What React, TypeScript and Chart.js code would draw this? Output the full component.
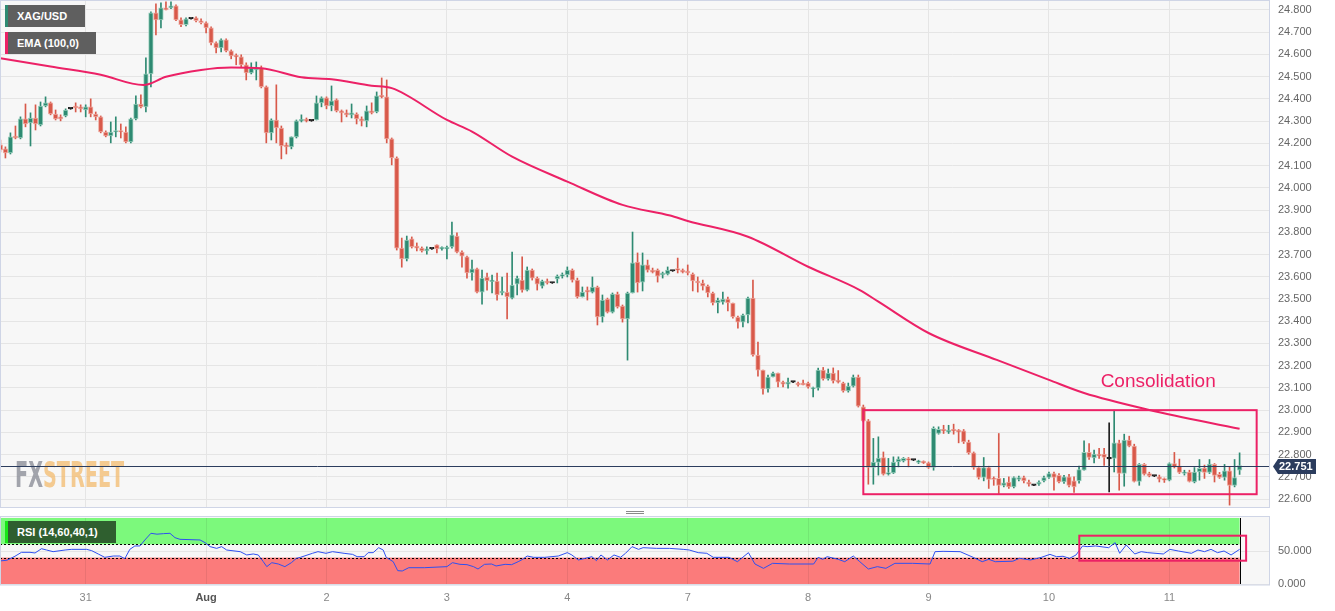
import React, { useEffect, useRef } from "react";
import { Chart, registerables } from "chart.js";

Chart.register(...registerables);

// ---------- DATA (hourly XAG/USD candles, index 0 = first visible hour) ----------
const opens = [
  24.193, 24.175, 24.157, 24.233, 24.224, 24.310, 24.292, 24.314, 24.283, 24.368,
  24.382, 24.332, 24.319, 24.323, 24.355, 24.368, 24.364, 24.350, 24.364, 24.332,
  24.319, 24.251, 24.233, 24.251, 24.256, 24.251, 24.206, 24.310, 24.377, 24.364,
  24.512, 24.787, 24.755, 24.809, 24.809, 24.818, 24.755, 24.733, 24.760, 24.764,
  24.751, 24.742, 24.719, 24.652, 24.629, 24.665, 24.616, 24.593, 24.589, 24.553,
  24.517, 24.530, 24.539, 24.454, 24.247, 24.305, 24.269, 24.193, 24.184, 24.229,
  24.301, 24.305, 24.301, 24.305, 24.382, 24.404, 24.368, 24.395, 24.346, 24.337,
  24.328, 24.332, 24.310, 24.301, 24.346, 24.341, 24.413, 24.409, 24.220, 24.134,
  23.729, 23.680, 23.770, 23.738, 23.729, 23.716, 23.725, 23.743, 23.725, 23.725,
  23.734, 23.783, 23.711, 23.689, 23.617, 23.635, 23.531, 23.599, 23.578, 23.581,
  23.527, 23.531, 23.504, 23.567, 23.585, 23.540, 23.630, 23.594, 23.558, 23.581,
  23.572, 23.590, 23.603, 23.608, 23.630, 23.585, 23.509, 23.540, 23.531, 23.554,
  23.419, 23.500, 23.441, 23.522, 23.468, 23.410, 23.527, 23.666, 23.576, 23.653,
  23.630, 23.630, 23.608, 23.612, 23.626, 23.635, 23.630, 23.626, 23.612, 23.581,
  23.572, 23.558, 23.527, 23.482, 23.486, 23.500, 23.482, 23.419, 23.396, 23.428,
  23.504, 23.248, 23.180, 23.095, 23.149, 23.167, 23.126, 23.117, 23.126, 23.122,
  23.122, 23.122, 23.095, 23.099, 23.180, 23.140, 23.167, 23.135, 23.122, 23.086,
  23.108, 23.149, 23.015, 22.952, 22.742, 22.765, 22.787, 22.712, 22.718, 22.767,
  22.772, 22.780, 22.775, 22.765, 22.767, 22.763, 22.742, 22.895, 22.914, 22.902,
  22.914, 22.910, 22.907, 22.857, 22.808, 22.742, 22.697, 22.742, 22.693, 22.693,
  22.662, 22.677, 22.655, 22.688, 22.697, 22.677, 22.662, 22.667, 22.682, 22.697,
  22.715, 22.707, 22.677, 22.700, 22.682, 22.682, 22.730, 22.810, 22.785, 22.802,
  22.802, 22.781, 22.783, 22.853, 22.715, 22.865, 22.838, 22.680, 22.756, 22.715,
  22.703, 22.700, 22.690, 22.685, 22.760, 22.748, 22.715, 22.722, 22.677, 22.722,
  22.740, 22.720, 22.756, 22.711, 22.697, 22.727, 22.662, 22.730,
];
const highs = [
  24.215, 24.184, 24.247, 24.278, 24.319, 24.377, 24.337, 24.373, 24.386, 24.409,
  24.386, 24.350, 24.328, 24.355, 24.357, 24.382, 24.373, 24.373, 24.400, 24.341,
  24.323, 24.256, 24.296, 24.319, 24.287, 24.274, 24.314, 24.413, 24.418, 24.584,
  24.791, 24.827, 24.832, 24.836, 24.836, 24.823, 24.764, 24.764, 24.762, 24.769,
  24.760, 24.746, 24.724, 24.656, 24.670, 24.670, 24.620, 24.602, 24.598, 24.562,
  24.562, 24.566, 24.548, 24.458, 24.310, 24.463, 24.278, 24.202, 24.229, 24.305,
  24.328, 24.314, 24.303, 24.413, 24.409, 24.409, 24.458, 24.400, 24.350, 24.350,
  24.377, 24.337, 24.319, 24.368, 24.382, 24.431, 24.494, 24.485, 24.224, 24.139,
  23.774, 23.783, 23.779, 23.752, 23.734, 23.734, 23.727, 23.743, 23.734, 23.738,
  23.846, 23.797, 23.716, 23.693, 23.675, 23.639, 23.630, 23.617, 23.608, 23.617,
  23.599, 23.617, 23.711, 23.603, 23.689, 23.644, 23.635, 23.599, 23.585, 23.590,
  23.574, 23.608, 23.617, 23.644, 23.635, 23.594, 23.554, 23.554, 23.599, 23.558,
  23.518, 23.504, 23.527, 23.531, 23.473, 23.531, 23.801, 23.707, 23.707, 23.675,
  23.639, 23.635, 23.621, 23.644, 23.628, 23.684, 23.635, 23.653, 23.617, 23.599,
  23.585, 23.563, 23.531, 23.504, 23.531, 23.509, 23.482, 23.423, 23.432, 23.509,
  23.585, 23.306, 23.180, 23.158, 23.171, 23.167, 23.131, 23.144, 23.128, 23.126,
  23.135, 23.126, 23.104, 23.189, 23.192, 23.185, 23.190, 23.178, 23.126, 23.122,
  23.158, 23.158, 23.023, 22.958, 22.873, 22.880, 22.812, 22.783, 22.790, 22.790,
  22.787, 22.787, 22.777, 22.775, 22.772, 22.767, 22.925, 22.925, 22.932, 22.932,
  22.937, 22.913, 22.913, 22.865, 22.812, 22.748, 22.787, 22.748, 22.700, 22.895,
  22.693, 22.700, 22.700, 22.703, 22.703, 22.685, 22.664, 22.682, 22.703, 22.722,
  22.722, 22.715, 22.707, 22.711, 22.700, 22.748, 22.862, 22.850, 22.820, 22.828,
  22.828, 22.943, 23.000, 22.865, 22.892, 22.883, 22.847, 22.760, 22.760, 22.721,
  22.705, 22.708, 22.695, 22.763, 22.810, 22.780, 22.730, 22.730, 22.742, 22.778,
  22.753, 22.778, 22.760, 22.720, 22.756, 22.745, 22.778, 22.808,
];
const lows = [
  24.161, 24.134, 24.152, 24.220, 24.220, 24.274, 24.188, 24.260, 24.278, 24.364,
  24.328, 24.305, 24.301, 24.319, 24.353, 24.341, 24.341, 24.319, 24.319, 24.305,
  24.247, 24.229, 24.202, 24.229, 24.224, 24.202, 24.202, 24.305, 24.359, 24.341,
  24.454, 24.688, 24.719, 24.800, 24.805, 24.751, 24.724, 24.728, 24.758, 24.746,
  24.737, 24.697, 24.643, 24.607, 24.611, 24.611, 24.580, 24.553, 24.544, 24.485,
  24.512, 24.485, 24.449, 24.202, 24.215, 24.202, 24.130, 24.152, 24.175, 24.224,
  24.296, 24.296, 24.299, 24.305, 24.364, 24.355, 24.346, 24.341, 24.296, 24.319,
  24.314, 24.287, 24.278, 24.274, 24.332, 24.337, 24.404, 24.202, 24.103, 23.720,
  23.643, 23.671, 23.729, 23.716, 23.711, 23.702, 23.723, 23.707, 23.720, 23.680,
  23.729, 23.707, 23.643, 23.594, 23.585, 23.527, 23.477, 23.540, 23.527, 23.495,
  23.518, 23.410, 23.500, 23.518, 23.531, 23.536, 23.585, 23.540, 23.549, 23.567,
  23.570, 23.572, 23.594, 23.599, 23.576, 23.504, 23.509, 23.495, 23.527, 23.383,
  23.396, 23.437, 23.437, 23.459, 23.396, 23.225, 23.527, 23.531, 23.536, 23.621,
  23.617, 23.576, 23.594, 23.608, 23.624, 23.617, 23.617, 23.608, 23.536, 23.531,
  23.540, 23.509, 23.473, 23.437, 23.477, 23.446, 23.414, 23.369, 23.374, 23.392,
  23.243, 23.153, 23.072, 23.081, 23.149, 23.104, 23.104, 23.099, 23.124, 23.108,
  23.113, 23.099, 23.059, 23.090, 23.135, 23.135, 23.122, 23.122, 23.081, 23.081,
  23.104, 23.014, 22.947, 22.667, 22.667, 22.708, 22.708, 22.708, 22.715, 22.745,
  22.767, 22.745, 22.773, 22.760, 22.760, 22.738, 22.730, 22.892, 22.895, 22.895,
  22.892, 22.853, 22.850, 22.802, 22.734, 22.690, 22.682, 22.648, 22.662, 22.625,
  22.655, 22.648, 22.650, 22.682, 22.673, 22.658, 22.660, 22.661, 22.677, 22.693,
  22.640, 22.673, 22.670, 22.655, 22.630, 22.672, 22.730, 22.778, 22.763, 22.783,
  22.752, 22.632, 22.722, 22.640, 22.658, 22.835, 22.677, 22.662, 22.708, 22.700,
  22.701, 22.677, 22.675, 22.682, 22.740, 22.715, 22.708, 22.677, 22.673, 22.685,
  22.693, 22.715, 22.677, 22.693, 22.685, 22.573, 22.655, 22.711,
];
const closes = [
  24.170, 24.157, 24.229, 24.224, 24.310, 24.287, 24.314, 24.287, 24.368, 24.382,
  24.332, 24.310, 24.310, 24.350, 24.355, 24.359, 24.355, 24.364, 24.332, 24.319,
  24.251, 24.233, 24.251, 24.256, 24.251, 24.206, 24.310, 24.377, 24.364, 24.512,
  24.787, 24.755, 24.809, 24.800, 24.818, 24.755, 24.733, 24.760, 24.760, 24.751,
  24.742, 24.719, 24.652, 24.629, 24.665, 24.616, 24.593, 24.589, 24.553, 24.517,
  24.539, 24.539, 24.454, 24.247, 24.305, 24.269, 24.188, 24.184, 24.229, 24.301,
  24.305, 24.301, 24.301, 24.382, 24.404, 24.368, 24.391, 24.346, 24.337, 24.328,
  24.337, 24.310, 24.301, 24.346, 24.337, 24.413, 24.409, 24.220, 24.134, 23.729,
  23.680, 23.765, 23.734, 23.729, 23.716, 23.725, 23.725, 23.725, 23.729, 23.729,
  23.788, 23.711, 23.693, 23.617, 23.635, 23.531, 23.594, 23.581, 23.581, 23.518,
  23.536, 23.509, 23.563, 23.594, 23.540, 23.630, 23.594, 23.567, 23.581, 23.572,
  23.572, 23.603, 23.608, 23.630, 23.585, 23.509, 23.531, 23.531, 23.554, 23.419,
  23.495, 23.441, 23.522, 23.464, 23.410, 23.527, 23.663, 23.572, 23.653, 23.630,
  23.621, 23.603, 23.617, 23.630, 23.626, 23.630, 23.621, 23.617, 23.581, 23.572,
  23.558, 23.527, 23.482, 23.495, 23.500, 23.482, 23.419, 23.396, 23.428, 23.504,
  23.248, 23.180, 23.095, 23.149, 23.167, 23.126, 23.117, 23.126, 23.126, 23.113,
  23.113, 23.104, 23.099, 23.180, 23.140, 23.167, 23.131, 23.126, 23.086, 23.108,
  23.149, 23.018, 22.952, 22.742, 22.767, 22.785, 22.712, 22.718, 22.767, 22.780,
  22.783, 22.775, 22.775, 22.772, 22.763, 22.742, 22.918, 22.914, 22.907, 22.910,
  22.907, 22.902, 22.857, 22.808, 22.742, 22.697, 22.742, 22.688, 22.688, 22.662,
  22.673, 22.655, 22.697, 22.697, 22.682, 22.667, 22.662, 22.677, 22.697, 22.715,
  22.697, 22.677, 22.700, 22.662, 22.655, 22.733, 22.810, 22.787, 22.802, 22.794,
  22.787, 22.781, 22.853, 22.715, 22.865, 22.838, 22.680, 22.756, 22.712, 22.704,
  22.703, 22.690, 22.685, 22.760, 22.745, 22.720, 22.722, 22.680, 22.722, 22.738,
  22.720, 22.757, 22.707, 22.697, 22.727, 22.662, 22.697, 22.751,
];

// EMA(100) at candle indices
const emaIdx = [0, 10, 20, 28.5, 33, 40, 46, 52, 60, 66, 74, 78, 89, 94, 102, 113, 124, 133.5, 137, 149, 161, 171.3, 175, 185, 198.6, 209, 216, 229, 247];
const emaVal = [24.583, 24.545, 24.508, 24.462, 24.499, 24.530, 24.541, 24.538, 24.497, 24.488, 24.459, 24.448, 24.305, 24.253, 24.140, 24.028, 23.923, 23.875, 23.851, 23.780, 23.645, 23.540, 23.488, 23.347, 23.226, 23.136, 23.077, 23.001, 22.916];

// RSI(14) vertices
const rsiIdx = [0, 1.3, 2.9, 4.2, 5.9, 6.9, 8.2, 9.2, 10.5, 12.9, 14.2, 17.2, 18.2, 19.5, 20.8, 22.5, 23.8, 24.8, 25.8, 26.8, 27.8, 28.8, 30, 31.2, 32.5, 33.8, 34.8, 35.8, 39.8, 40.8, 41.8, 43.1, 44.1, 45.1, 47.8, 49.1, 50.4, 51.4, 52.4, 53.1, 54.1, 55.4, 56.7, 58, 59, 59.8, 62.2, 63.3, 64.9, 66.2, 68.5, 70.2, 71.1, 72.5, 73.3, 74.3, 75.4, 76.3, 76.9, 78.3, 79.2, 80.1, 81.4, 84.5, 89, 90.1, 91.6, 93, 94.3, 95.2, 96.5, 97.9, 98.8, 100.6, 101.9, 103.2, 104.1, 105, 106.3, 108.5, 111.2, 113, 113.9, 115.2, 116.6, 117.9, 118.8, 119.7, 121, 122.3, 123.6, 124.6, 125.9, 127.2, 128.1, 130.8, 133.4, 136.1, 137.3, 139.1, 140.8, 142.1, 145.2, 146.9, 149.1, 150.4, 152.1, 153.9, 157.3, 162.1, 163, 163.9, 164.8, 167, 168.3, 170, 171.3, 173, 174.8, 176.5, 178.3, 181.8, 185.3, 186.3, 187.9, 191.3, 193.9, 195.7, 197, 198.3, 201.8, 203.1, 205.3, 207.5, 209.2, 210.5, 211.8, 213.1, 214.4, 215.7, 216.6, 218.3, 220.9, 222.2, 223.1, 224.4, 226.1, 227.4, 228.7, 231.8, 233.1, 234.8, 237.4, 238.7, 240, 241.3, 242.6, 243.9, 245.3, 247];
const rsiVal = [35, 36, 42, 48, 48, 47, 53.5, 51.5, 49, 51.5, 52.5, 52.5, 50.5, 45.5, 40.4, 42.4, 42.4, 38.4, 52.5, 57.6, 57.6, 66.7, 76.8, 75.5, 76.3, 76.8, 70.2, 67.7, 66.7, 62.6, 56.6, 54, 56.6, 51.5, 49, 44, 45.5, 44, 33.8, 26.3, 32.3, 30.3, 26.3, 32.3, 38.9, 40.4, 46.5, 49, 46.5, 49, 46.5, 44.9, 41.4, 41.4, 47.5, 47.5, 55, 51.5, 40.4, 33.8, 20.2, 19.7, 24.7, 24.7, 26.3, 32.3, 29.8, 29.3, 26.3, 22.7, 29.8, 30.3, 27.3, 29.8, 29.3, 33.8, 37.4, 42.4, 40.4, 40.4, 42.4, 47.5, 44, 36.4, 38.9, 41.4, 35.4, 44, 36.4, 44, 40.4, 46.5, 56.6, 52.5, 55, 54, 54, 52.5, 51.5, 47.5, 46.5, 40.4, 40.4, 33.8, 47.5, 30.3, 23.7, 31.3, 30.3, 30.3, 40.4, 37.4, 41.4, 37.4, 33.8, 42.4, 33.8, 22.7, 26.3, 23.7, 31.3, 31.3, 30.3, 49, 49.5, 49, 40.4, 33.8, 37.4, 33.8, 34.5, 38.9, 36.4, 40.4, 44.9, 41.4, 42, 38.9, 44, 57.6, 56.6, 57.6, 55, 62.6, 46.5, 59.1, 45.5, 49, 47.5, 45.5, 52.5, 50, 46.5, 51.5, 49, 52.5, 47.5, 50, 44, 52.5];

// Day separators (candle index of 00:00) and their labels
const dayTickIdx = [17, 41, 65, 89, 113, 137, 161, 185, 209, 233];
const dayLabels = ["31", "Aug", "2", "3", "4", "7", "8", "9", "10", "11"];
const priceTicks = [22.6, 22.7, 22.8, 22.9, 23.0, 23.1, 23.2, 23.3, 23.4, 23.5, 23.6, 23.7, 23.8, 23.9, 24.0, 24.1, 24.2, 24.3, 24.4, 24.5, 24.6, 24.7, 24.8];
const rsiTicks = [0, 50];
const rsiBands = [40, 60];

// Annotations (data coordinates)
const consolidationX = [172.0, 250.4];
const consolidationY = [22.622, 23.0];
const consolidationLabel = "Consolidation";
const consolidationLabelAt = [219.3, 23.103];
const rsiBoxX = [215.05, 248.3];
const rsiBoxY = [35.3, 73.2];

// ---------- STYLE ----------
const FONT = "'Liberation Sans', Arial, Helvetica, sans-serif";
const UP = "#2e8a72";
const DOWN = "#d8594a";
const DOJI = "#1e1e1e";
const UP_EDGE = "rgba(150,205,186,0.95)";
const DOWN_EDGE = "rgba(238,168,158,0.95)";
const ACCENT = "#ec2166";
const X_MIN = -0.08;
const X_MAX = 253.06;

const dir = (i: number) => (closes[i] > opens[i] ? 1 : closes[i] < opens[i] ? -1 : 0);
const fillFor = (i: number) => (dir(i) > 0 ? UP : dir(i) < 0 ? DOWN : DOJI);
const edgeFor = (i: number) => (dir(i) > 0 ? UP_EDGE : dir(i) < 0 ? DOWN_EDGE : DOJI);

const zeroPad = (s: any) => {
  s.paddingTop = 0;
  s.paddingBottom = 0;
  s.paddingLeft = 0;
  s.paddingRight = 0;
};

const dayScale = (extra: any) => ({
  type: "linear",
  min: X_MIN,
  max: X_MAX,
  offset: false,
  afterBuildTicks: (s: any) => {
    s.ticks = dayTickIdx.map((v) => ({ value: v }));
  },
  border: { display: false },
  ...extra,
});

export default function App() {
  const mainRef = useRef<HTMLCanvasElement>(null);
  const rsiRef = useRef<HTMLCanvasElement>(null);

  useEffect(() => {
    const n = closes.length;
    const last = closes[n - 1];

    const mainPlugin = {
      id: "mainDeco",
      beforeDraw(chart: any) {
        const { ctx, chartArea: a } = chart;
        ctx.save();
        ctx.fillStyle = "#ffffff";
        ctx.fillRect(0, 0, chart.width, chart.height);
        ctx.fillStyle = "#f7f7f7";
        ctx.fillRect(a.left, a.top, a.right - a.left, a.bottom - a.top);
        ctx.restore();
      },
      beforeDatasetsDraw(chart: any) {
        const { ctx } = chart;
        ctx.save();
        ctx.font = `bold 35px 'DejaVu Sans', sans-serif`;
        ctx.textBaseline = "alphabetic";
        ctx.translate(15, 487);
        ctx.scale(0.55, 1);
        ctx.fillStyle = "rgba(140,143,152,0.8)";
        ctx.fillText("FX", 0, 0);
        const w = ctx.measureText("FX").width;
        ctx.fillStyle = "rgba(243,190,118,0.8)";
        ctx.fillText("STREET", w, 0);
        ctx.restore();
      },
      afterDatasetsDraw(chart: any) {
        const { ctx, chartArea: a, scales } = chart;
        const x = scales.x;
        const y = scales.y;
        ctx.save();
        const bx0 = x.getPixelForValue(consolidationX[0]);
        const bx1 = x.getPixelForValue(consolidationX[1]);
        const by0 = y.getPixelForValue(consolidationY[1]);
        const by1 = y.getPixelForValue(consolidationY[0]);
        ctx.strokeStyle = ACCENT;
        ctx.lineWidth = 2;
        ctx.strokeRect(bx0, by0, bx1 - bx0, by1 - by0);
        ctx.fillStyle = ACCENT;
        ctx.font = `19px ${FONT}`;
        ctx.textAlign = "left";
        ctx.textBaseline = "alphabetic";
        ctx.fillText(consolidationLabel, x.getPixelForValue(consolidationLabelAt[0]), y.getPixelForValue(consolidationLabelAt[1]));
        const py = Math.round(y.getPixelForValue(last)) + 0.5;
        ctx.strokeStyle = "#2c3d5e";
        ctx.lineWidth = 1;
        ctx.beginPath();
        ctx.moveTo(a.left, py);
        ctx.lineTo(a.right, py);
        ctx.stroke();
        ctx.restore();
      },
      afterDraw(chart: any) {
        const { ctx, chartArea: a, scales } = chart;
        ctx.save();
        ctx.strokeStyle = "#cfd5e6";
        ctx.lineWidth = 1;
        ctx.strokeRect(a.left + 0.5, a.top - 0.5, a.right - a.left - 1, a.bottom - a.top);
        const py = Math.round(scales.y.getPixelForValue(last)) + 0.5;
        const r = a.right;
        ctx.fillStyle = "#2b3c5d";
        ctx.beginPath();
        ctx.moveTo(r + 3, py);
        ctx.lineTo(r + 8, py - 7.5);
        ctx.lineTo(r + 46, py - 7.5);
        ctx.lineTo(r + 46, py + 7.5);
        ctx.lineTo(r + 8, py + 7.5);
        ctx.closePath();
        ctx.fill();
        ctx.fillStyle = "#ffffff";
        ctx.font = `bold 11px ${FONT}`;
        ctx.textBaseline = "middle";
        ctx.textAlign = "left";
        ctx.fillText(last.toFixed(3), r + 9, py + 0.5);
        ctx.restore();
      },
    };

    const main = new Chart(mainRef.current as HTMLCanvasElement, {
      type: "bar",
      data: {
        datasets: [
          {
            type: "line",
            label: "EMA (100,0)",
            data: emaIdx.map((v, i) => ({ x: v, y: emaVal[i] })),
            borderColor: ACCENT,
            borderWidth: 2,
            pointRadius: 0,
            cubicInterpolationMode: "monotone",
            order: 0,
          } as any,
          {
            type: "bar",
            label: "body",
            data: closes.map((c, i) => ({ x: i, y: [opens[i], c] })),
            backgroundColor: closes.map((_, i) => fillFor(i)),
            borderColor: closes.map((_, i) => edgeFor(i)),
            borderWidth: 1,
            borderSkipped: false,
            barThickness: 4.6,
            minBarLength: 1.5,
            grouped: false,
            order: 1,
          } as any,
          {
            type: "bar",
            label: "wick",
            data: closes.map((_, i) => ({ x: i, y: [lows[i], highs[i]] })),
            backgroundColor: closes.map((_, i) => fillFor(i)),
            barThickness: 1,
            grouped: false,
            order: 2,
          } as any,
        ],
      },
      options: {
        animation: false,
        responsive: false,
        devicePixelRatio: 1,
        events: [],
        layout: { autoPadding: false, padding: { top: 1, left: 0, right: 0, bottom: 0 } },
        plugins: { legend: { display: false }, tooltip: { enabled: false } },
        scales: {
          x: dayScale({
            ticks: { display: false },
            grid: { color: "#e5e5e5", drawTicks: false, offset: false },
            afterFit: (s: any) => {
              s.height = 1;
              zeroPad(s);
            },
          }),
          y: {
            type: "linear",
            position: "right",
            min: 22.56,
            max: 24.84,
            afterBuildTicks: (s: any) => {
              s.ticks = priceTicks.map((v) => ({ value: v }));
            },
            afterFit: (s: any) => {
              s.width = 65;
              zeroPad(s);
            },
            ticks: {
              padding: 8,
              autoSkip: false,
              color: "#666",
              font: { family: FONT, size: 11 },
              callback: (v: any) => Number(v).toFixed(3),
            },
            grid: { color: "#e5e5e5", drawTicks: false },
            border: { display: false },
          },
        },
      } as any,
      plugins: [mainPlugin],
    });

    const rsiPlugin = {
      id: "rsiDeco",
      beforeDraw(chart: any) {
        const { ctx, chartArea: a, scales } = chart;
        const x = scales.x;
        const y = scales.y;
        ctx.save();
        ctx.fillStyle = "#ffffff";
        ctx.fillRect(0, 0, chart.width, chart.height);
        ctx.fillStyle = "#f7f7f7";
        ctx.fillRect(a.left, a.top - 1.5, a.right - a.left, a.bottom - a.top + 2.5);
        const xr = x.getPixelForValue(n - 1);
        ctx.fillStyle = "#7cf97c";
        ctx.fillRect(a.left, y.getPixelForValue(100), xr - a.left, y.getPixelForValue(rsiBands[1]) - y.getPixelForValue(100));
        ctx.fillStyle = "#fb7b7b";
        ctx.fillRect(a.left, y.getPixelForValue(rsiBands[0]), xr - a.left, y.getPixelForValue(0) - y.getPixelForValue(rsiBands[0]));
        ctx.restore();
      },
      beforeDatasetsDraw(chart: any) {
        const { ctx, chartArea: a, scales } = chart;
        const x = scales.x;
        const y = scales.y;
        const xr = Math.round(x.getPixelForValue(n - 1)) + 0.5;
        ctx.save();
        ctx.strokeStyle = "#000";
        ctx.lineWidth = 1;
        ctx.setLineDash([2, 2]);
        rsiBands.forEach((b) => {
          const yy = Math.round(y.getPixelForValue(b)) + 0.5;
          ctx.beginPath();
          ctx.moveTo(a.left, yy);
          ctx.lineTo(xr, yy);
          ctx.stroke();
        });
        ctx.setLineDash([]);
        [a.left + 0.5, xr].forEach((xx) => {
          ctx.beginPath();
          ctx.moveTo(xx, y.getPixelForValue(100));
          ctx.lineTo(xx, y.getPixelForValue(0));
          ctx.stroke();
        });
        ctx.restore();
      },
      afterDatasetsDraw(chart: any) {
        const { ctx, scales } = chart;
        const x = scales.x;
        const y = scales.y;
        ctx.save();
        ctx.strokeStyle = ACCENT;
        ctx.lineWidth = 2;
        const x0 = x.getPixelForValue(rsiBoxX[0]);
        const x1 = x.getPixelForValue(rsiBoxX[1]);
        const y0 = y.getPixelForValue(rsiBoxY[1]);
        const y1 = y.getPixelForValue(rsiBoxY[0]);
        ctx.strokeRect(x0, y0, x1 - x0, y1 - y0);
        ctx.restore();
      },
      afterDraw(chart: any) {
        const { ctx, chartArea: a } = chart;
        ctx.save();
        ctx.strokeStyle = "#cfd5e6";
        ctx.lineWidth = 1;
        ctx.strokeRect(a.left + 0.5, a.top - 1.5, a.right - a.left - 1, a.bottom - a.top + 2.5);
        ctx.strokeStyle = "#8a8a8a";
        [2.5, 4.5].forEach((yy) => {
          ctx.beginPath();
          ctx.moveTo(626, yy);
          ctx.lineTo(644, yy);
          ctx.stroke();
        });
        ctx.restore();
      },
    };

    const rsi = new Chart(rsiRef.current as HTMLCanvasElement, {
      type: "line",
      data: {
        datasets: [
          {
            label: "RSI (14,60,40,1)",
            data: rsiIdx.map((v, i) => ({ x: v, y: rsiVal[i] })),
            borderColor: "#2f50f0",
            borderWidth: 1,
            pointRadius: 0,
            tension: 0,
          },
        ],
      },
      options: {
        animation: false,
        responsive: false,
        devicePixelRatio: 1,
        events: [],
        layout: { autoPadding: false, padding: { top: 9, left: 0, right: 0, bottom: 0 } },
        plugins: { legend: { display: false }, tooltip: { enabled: false } },
        scales: {
          x: dayScale({
            ticks: {
              padding: 7,
              autoSkip: false,
              maxRotation: 0,
              color: (c: any) => (dayLabels[c.index] === "Aug" ? "#555" : "#888"),
              font: (c: any) => ({ family: FONT, size: 11, weight: dayLabels[c.index] === "Aug" ? "bold" : "normal" }),
              callback: (_v: any, idx: number) => dayLabels[idx],
            },
            grid: { color: "rgba(0,0,0,0.07)", drawTicks: false, offset: false },
            afterFit: (s: any) => {
              s.height = 27;
              zeroPad(s);
            },
          }),
          y: {
            type: "linear",
            position: "right",
            min: 0,
            max: 100,
            afterBuildTicks: (s: any) => {
              s.ticks = rsiTicks.map((v) => ({ value: v }));
            },
            afterFit: (s: any) => {
              s.width = 65;
              zeroPad(s);
            },
            ticks: {
              padding: 8,
              autoSkip: false,
              color: "#666",
              font: { family: FONT, size: 11 },
              callback: (v: any) => Number(v).toFixed(3),
            },
            grid: { color: "rgba(0,0,0,0.07)", drawTicks: false },
            border: { display: false },
          },
        },
      } as any,
      plugins: [rsiPlugin],
    });

    return () => {
      main.destroy();
      rsi.destroy();
    };
  }, []);

  const tag = (extra: any) => ({
    position: "absolute" as const,
    left: 5,
    height: 22,
    boxSizing: "border-box" as const,
    color: "#fff",
    font: `bold 11px ${FONT}`,
    lineHeight: "22px",
    paddingLeft: 9,
    whiteSpace: "nowrap" as const,
    zIndex: 2,
    ...extra,
  });

  return (
    <div style={{ position: "absolute", left: 0, top: 0, width: 1335, height: 611, background: "#fff", overflow: "hidden" }}>
      <canvas ref={mainRef} width={1335} height={509} style={{ position: "absolute", left: 0, top: 0, width: 1335, height: 509 }} />
      <canvas ref={rsiRef} width={1335} height={102} style={{ position: "absolute", left: 0, top: 509, width: 1335, height: 102 }} />
      <div style={tag({ top: 5, width: 80, background: "#5f5f5f", borderLeft: `3px solid ${UP}` })}>XAG/USD</div>
      <div style={tag({ top: 32, width: 91, background: "#5f5f5f", borderLeft: `3px solid ${ACCENT}` })}>EMA (100,0)</div>
      <div style={tag({ top: 521, width: 111, background: "#2f5f2f", borderLeft: "3px solid #19e619" })}>RSI (14,60,40,1)</div>
    </div>
  );
}
